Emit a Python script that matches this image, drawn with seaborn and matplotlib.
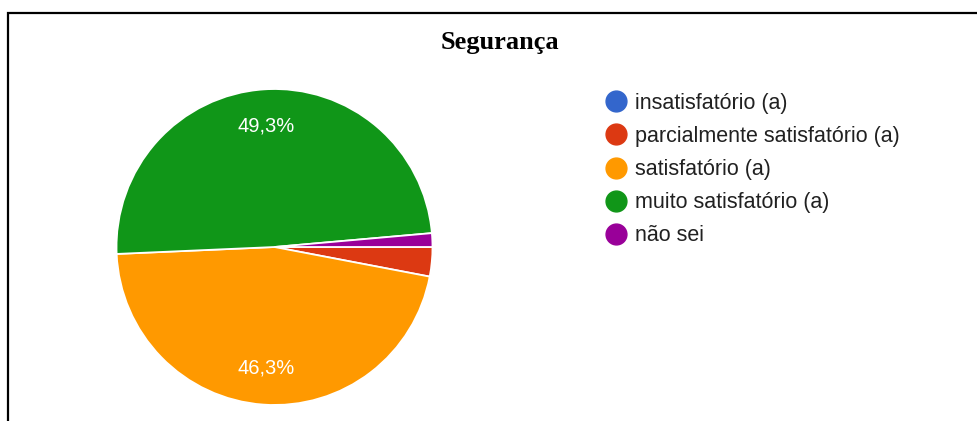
import matplotlib
matplotlib.use("Agg")
import matplotlib.pyplot as plt
from matplotlib.lines import Line2D
from matplotlib.patches import Rectangle
import seaborn as sns

# Data
categories = ["insatisfatório (a)", "parcialmente satisfatório (a)", "satisfatório (a)",
              "muito satisfatório (a)", "não sei"]
percentages = [0.0, 3.0, 46.3, 49.3, 1.4]
colors = ["#3366cc", "#dc3912", "#ff9900", "#109618", "#990099"]
title = "Segurança"

sns.set_theme(style="white")
plt.rcParams['font.family'] = ['Liberation Sans', 'DejaVu Sans']

W, H = 977, 421
fig = plt.figure(figsize=(W / 100, H / 100), dpi=100)
fig.patch.set_facecolor("white")

# Pie axes: centre (274.5, 247) px, radius 158 px
cx, cy, r = 274.5, 247, 158
ax = fig.add_axes([(cx - r) / W, (H - cy - r) / H, 2 * r / W, 2 * r / H])


def pct_label(p):
    # only the big slices carry a label, Google-chart style
    return f"{p:.1f}%".replace(".", ",") if p >= 5 else ""


ax.pie(percentages, colors=colors, startangle=0, counterclock=False,
       radius=1, autopct=pct_label, pctdistance=0.765,
       wedgeprops=dict(edgecolor="white", linewidth=1.3),
       textprops=dict(color="white", fontsize=14.5))
ax.set_xlim(-1, 1)
ax.set_ylim(-1, 1)
ax.set_aspect("equal")
ax.axis("off")

# Title
fig.text(499.5 / W, 1 - 48.5 / H, title, ha="center", va="baseline", color="black",
         fontsize=19, fontweight="bold", family=["Liberation Serif", "DejaVu Serif"])

# Legend
handles = [Line2D([], [], marker="o", linestyle="", markersize=15,
                  markerfacecolor=c, markeredgecolor=c) for c in colors]
leg = fig.legend(handles, categories, loc="upper left",
                 bbox_to_anchor=(592 / W, 1 - 82 / H), frameon=False,
                 fontsize=15.5, labelspacing=0.565, handletextpad=0.29,
                 handlelength=1.2, borderpad=0)
for t in leg.get_texts():
    t.set_color("#212121")

# Frame (left and top edges visible in the crop)
fig.add_artist(Rectangle((8 / W, -0.1), 1.2, 1 - 13 / H + 0.1,
                         transform=fig.transFigure, fill=False,
                         edgecolor="black", linewidth=1.6, clip_on=False))

fig.savefig("out.png", dpi=100)
plt.close(fig)
